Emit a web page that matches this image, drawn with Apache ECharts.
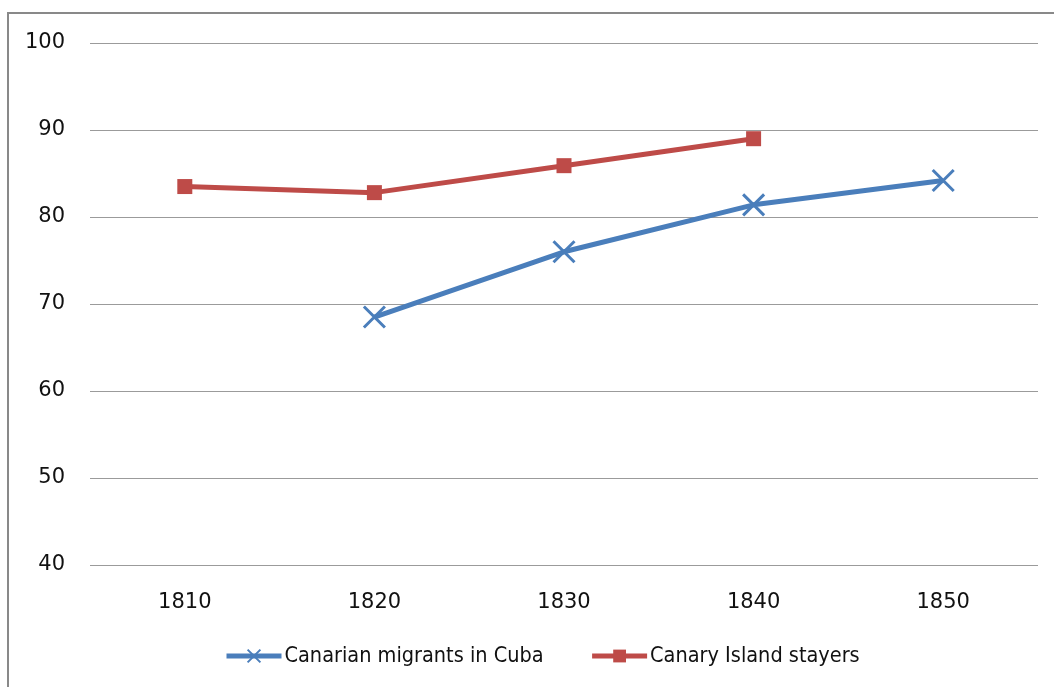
<!DOCTYPE html>
<html><head><meta charset="utf-8">
<script src="https://cdn.jsdelivr.net/npm/echarts@6/dist/echarts.min.js"></script>
<style>html,body{margin:0;padding:0;background:#fff}#c{width:1054px;height:687px}</style>
</head><body><div id="c"></div>
<script>
const categories = ['1810', '1820', '1830', '1840', '1850'];
const migrantsCuba = [null, 68.5, 76.0, 81.4, 84.2];
const islandStayers = [83.5, 82.8, 85.9, 89.0, null];
const seriesNames = ['Canarian migrants in Cuba', 'Canary Island stayers'];

const chart = echarts.init(document.getElementById('c'));
chart.setOption({
  animation: false,
  backgroundColor: '#fff',
  graphic: [{
    type: 'rect', shape: { x: 8, y: 13, width: 1100, height: 700 },
    style: { fill: 'none', stroke: '#898989', lineWidth: 2 }, silent: true, z: -1
  }],
  grid: { left: 90, right: 16, top: 43, bottom: 122 },
  legend: {
    top: 645, left: 224, padding: 0,
    itemWidth: 55, itemHeight: 16, itemGap: 46,
    textStyle: { fontFamily: 'DejaVu Sans Condensed', fontSize: 21.5, color: '#111', padding: [0, 0, 0, -2] },
    data: [
      { name: seriesNames[0], lineStyle: { width: 5, color: '#4a7ebb' } },
      { name: seriesNames[1], lineStyle: { width: 5, color: '#be4b48' } }
    ]
  },
  xAxis: {
    type: 'category', data: categories, boundaryGap: true,
    axisLine: { show: false }, axisTick: { show: false },
    axisLabel: { margin: 27, fontFamily: 'DejaVu Sans', fontSize: 21, color: '#111' }
  },
  yAxis: {
    type: 'value', min: 40, max: 100, interval: 10,
    axisLine: { show: false }, axisTick: { show: false },
    axisLabel: { margin: 25, fontFamily: 'DejaVu Sans', fontSize: 21, color: '#111' },
    splitLine: { lineStyle: { color: '#9b9b9b', width: 1 } }
  },
  series: [{
    name: seriesNames[0], type: 'line', data: migrantsCuba,
    symbol: 'path://M0,0 L10,10 M10,0 L0,10', symbolSize: 21,
    lineStyle: { color: '#4a7ebb', width: 5 },
    itemStyle: { color: '#4a7ebb', borderColor: '#4a7ebb', borderWidth: 3 },
    connectNulls: false, z: 3
  }, {
    name: seriesNames[1], type: 'line', data: islandStayers,
    symbol: 'rect', symbolSize: 15,
    lineStyle: { color: '#be4b48', width: 5 },
    itemStyle: { color: '#be4b48' }, z: 2
  }]
});
</script></body></html>
